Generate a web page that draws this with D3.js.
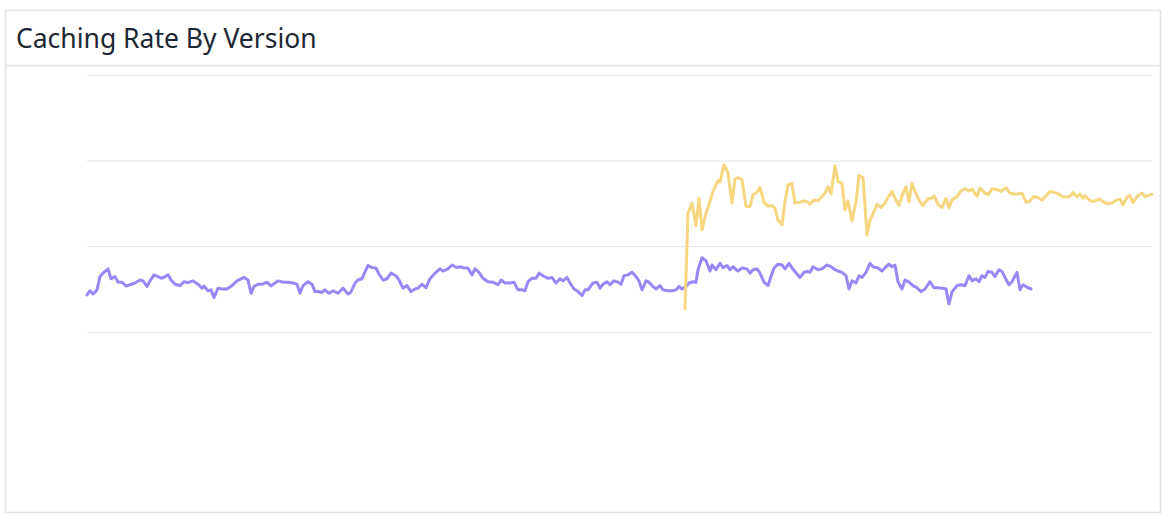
<!DOCTYPE html>
<html>
<head>
<meta charset="utf-8">
<script src="https://cdn.jsdelivr.net/npm/d3@7"></script>
<style>
  html, body { margin: 0; padding: 0; background: #fff; }
  #chart { width: 1170px; height: 520px; }
</style>
</head>
<body>
<div id="chart"></div>
<script>
const title = "Caching Rate By Version";

// minutes since start of window, caching rate in %
const oldVersionMinutes = [
    0, 3, 6, 10, 13, 16, 21, 24, 28, 31, 35, 39, 43, 48, 53, 56, 60, 63, 67, 71,
    75, 81, 84, 88, 93, 97, 101, 106, 111, 115, 117, 121, 124, 127, 131, 135, 140, 145, 150, 155,
    157, 161, 164, 167, 171, 175, 180, 184, 188, 191, 196, 201, 206, 210, 213, 216, 221, 225, 228, 231,
    235, 238, 242, 246, 251, 256, 261, 264, 268, 271, 275, 281, 285, 289, 292, 296, 300, 304, 309, 312,
    316, 320, 324, 328, 331, 335, 339, 343, 348, 353, 356, 361, 365, 370, 373, 377, 381, 385, 388, 392,
    396, 401, 406, 411, 414, 418, 423, 427, 431, 435, 438, 441, 445, 449, 452, 456, 461, 465, 469, 473,
    476, 480, 483, 487, 491, 495, 498, 501, 506, 510, 513, 516, 520, 523, 527, 531, 534, 537, 541, 545,
    549, 552, 555, 559, 562, 565, 569, 573, 576, 581, 585, 589, 592, 595, 599, 602, 606, 609, 611, 615,
    619, 623, 625, 629, 633, 636, 640, 643, 646, 651, 655, 660, 663, 666, 670, 673, 677, 681, 684, 687,
    691, 695, 698, 702, 705, 710, 713, 717, 720, 723, 726, 731, 735, 740, 744, 748, 751, 755, 759, 762,
    765, 769, 772, 775, 779, 783, 786, 791, 795, 799, 802, 805, 808, 811, 815, 818, 822, 826, 830, 834,
    838, 843, 847, 851, 855, 859, 862, 865, 870, 874, 878, 882, 885, 889, 892, 895, 898, 901, 905, 908,
    912, 915, 918, 922, 925, 930, 933, 936, 941, 944
];
const oldVersionRates = [
    48.6, 49.6, 48.8, 49.8, 52.9, 53.7, 54.7, 52.4, 52.9, 51.6, 51.6, 50.7, 51.0, 51.4, 52.1, 51.9, 50.6, 51.9, 53.3, 52.9,
    52.5, 53.3, 52.1, 51.1, 50.8, 51.7, 51.5, 51.9, 51.1, 50.2, 50.7, 49.6, 49.8, 48.0, 50.2, 50.0, 50.0, 50.8, 51.9, 52.5,
    52.7, 52.1, 49.0, 50.6, 51.1, 51.1, 51.6, 50.7, 51.4, 51.9, 51.6, 51.6, 51.4, 51.1, 49.0, 50.8, 51.7, 51.1, 49.4, 49.4,
    49.2, 49.8, 49.0, 49.6, 49.0, 50.2, 48.8, 49.3, 51.4, 52.1, 52.4, 55.5, 55.0, 54.9, 53.5, 52.1, 52.4, 53.7, 53.1, 52.1,
    50.2, 50.8, 49.4, 50.0, 50.2, 51.1, 50.3, 52.4, 53.7, 54.7, 54.2, 54.7, 55.6, 55.0, 55.2, 54.9, 54.9, 53.3, 54.7, 53.9,
    52.5, 51.7, 51.6, 51.0, 52.1, 51.4, 51.4, 51.6, 49.8, 49.8, 49.6, 51.7, 52.5, 52.5, 53.7, 53.1, 52.5, 52.7, 51.4, 52.4,
    51.9, 52.7, 51.4, 50.0, 49.4, 48.5, 49.8, 49.8, 51.4, 51.6, 50.2, 51.1, 51.7, 51.0, 51.9, 51.6, 51.1, 53.1, 53.3, 53.9,
    52.9, 51.9, 49.8, 51.9, 51.6, 50.8, 50.0, 50.8, 49.8, 49.6, 49.6, 49.8, 50.6, 50.0, 50.6, 51.4, 51.7, 51.6, 54.5, 57.3,
    56.6, 54.2, 55.6, 54.5, 56.0, 55.0, 55.5, 54.5, 55.2, 54.2, 54.9, 54.7, 53.7, 54.5, 54.7, 53.7, 51.6, 50.8, 52.9, 54.9,
    55.8, 55.6, 54.7, 56.0, 54.9, 53.5, 52.7, 53.9, 54.1, 53.9, 55.2, 54.5, 54.7, 55.6, 55.2, 54.5, 54.2, 53.9, 53.1, 50.0,
    51.9, 51.4, 53.1, 52.7, 53.9, 56.0, 55.2, 54.9, 54.2, 55.2, 55.8, 55.2, 55.6, 51.7, 50.0, 52.1, 51.6, 50.8, 50.3, 49.4,
    50.0, 51.7, 50.3, 50.3, 50.2, 50.0, 46.5, 49.3, 50.8, 51.0, 50.8, 53.1, 51.9, 52.4, 51.7, 53.1, 52.7, 54.1, 53.9, 52.9,
    54.5, 54.1, 52.7, 51.0, 51.7, 53.9, 49.8, 51.0, 50.3, 50.0
];

const newVersionMinutes = [
    598, 601, 605, 609, 612, 615, 619, 622, 626, 631, 633, 637, 641, 645, 648, 651, 655, 659, 663, 666,
    670, 673, 677, 681, 685, 688, 691, 695, 698, 701, 705, 708, 713, 717, 721, 723, 727, 731, 735, 738,
    741, 744, 748, 751, 755, 758, 761, 765, 769, 772, 776, 780, 783, 786, 790, 794, 798, 801, 805, 808,
    812, 815, 819, 822, 825, 829, 833, 836, 841, 844, 847, 851, 855, 859, 862, 865, 870, 874, 878, 882,
    885, 890, 893, 897, 901, 905, 910, 914, 919, 923, 927, 931, 935, 939, 942, 947, 951, 955, 960, 963,
    970, 976, 980, 984, 986, 990, 993, 996, 998, 1002, 1006, 1010, 1013, 1016, 1020, 1025, 1029, 1033, 1036, 1040,
    1043, 1046, 1050, 1055, 1058, 1063, 1065
];
const newVersionRates = [
    45.4, 67.7, 70.1, 64.8, 71.2, 63.8, 67.7, 69.7, 72.8, 75.3, 75.0, 79.0, 77.1, 70.1, 75.7, 76.0, 75.5, 69.3, 69.3, 72.0,
    72.6, 73.7, 70.3, 69.3, 69.5, 68.9, 66.1, 65.0, 70.4, 74.3, 74.7, 70.1, 70.3, 70.6, 70.3, 69.8, 70.8, 70.6, 71.6, 72.4,
    73.9, 72.2, 78.8, 75.1, 74.7, 68.5, 70.6, 65.9, 70.4, 76.5, 76.0, 62.6, 66.1, 67.5, 69.8, 69.0, 70.1, 71.4, 72.8, 71.2,
    69.5, 71.8, 73.9, 70.4, 74.7, 72.2, 70.4, 69.5, 71.1, 71.1, 71.8, 69.8, 69.0, 71.2, 69.0, 70.8, 71.6, 72.9, 73.4, 72.9,
    73.4, 71.6, 73.6, 72.6, 72.0, 73.4, 73.2, 72.8, 73.7, 72.4, 72.2, 72.2, 72.4, 70.3, 70.4, 71.6, 71.4, 70.8, 72.0, 72.8,
    72.4, 71.5, 71.5, 71.8, 72.5, 71.5, 72.2, 71.2, 71.8, 70.8, 70.4, 70.8, 71.0, 70.4, 69.9, 70.1, 70.7, 71.0, 69.7, 71.5,
    71.8, 70.2, 71.6, 72.4, 71.6, 72.0, 72.1
];

const gridRates = [40, 60, 80, 100];

const COLORS = {
    oldVersion: "#9a87f6",
    newVersion: "#f6d67f",
    grid: "#e9e9ec",
    border: "#e2e2ec",
    title: "#1d2733"
};

const width = 1170, height = 520;
const frame = { left: 5.5, top: 10.5, right: 1160.5, bottom: 512.5, header: 65.5 };
const plot = { left: 87, right: 1152, top: 75, bottom: 503 };

const svg = d3.select("#chart")
    .append("svg")
    .attr("width", width)
    .attr("height", height);

// widget frame + header rule
svg.append("rect")
    .attr("x", frame.left)
    .attr("y", frame.top)
    .attr("width", frame.right - frame.left)
    .attr("height", frame.bottom - frame.top)
    .attr("fill", "#fff")
    .attr("stroke", COLORS.border)
    .attr("stroke-width", 1.5);

svg.append("line")
    .attr("x1", frame.left).attr("x2", frame.right)
    .attr("y1", frame.header).attr("y2", frame.header)
    .attr("stroke", COLORS.border)
    .attr("stroke-width", 1.5);

svg.append("text")
    .attr("x", 16)
    .attr("y", 48)
    .attr("fill", COLORS.title)
    .style("font-family", "'Noto Sans', 'Open Sans', sans-serif")
    .style("font-size", "26.5px")
    .text(title);

const x = d3.scaleLinear()
    .domain([0, 1065])
    .range([plot.left, plot.right]);

const y = d3.scaleLinear()
    .domain([0, 100])
    .range([plot.bottom, plot.top]);

// gridlines, no labels
svg.append("g")
    .attr("class", "grid")
    .attr("transform", `translate(${plot.left},0)`)
    .call(d3.axisLeft(y).tickValues(gridRates).tickSize(-(plot.right - plot.left)).tickFormat(""))
    .call(g => g.select(".domain").remove())
    .call(g => g.selectAll(".tick line")
        .attr("stroke", COLORS.grid)
        .attr("stroke-width", 1.2));

const line = d3.line()
    .x(d => x(d[0]))
    .y(d => y(d[1]));

const series = [
    { name: "old", minutes: oldVersionMinutes, rates: oldVersionRates, color: COLORS.oldVersion },
    { name: "new", minutes: newVersionMinutes, rates: newVersionRates, color: COLORS.newVersion }
];

svg.selectAll("path.series")
    .data(series)
    .enter()
    .append("path")
    .attr("class", "series")
    .attr("d", s => line(d3.zip(s.minutes, s.rates)))
    .attr("fill", "none")
    .attr("stroke", s => s.color)
    .attr("stroke-width", 3)
    .attr("stroke-linejoin", "round")
    .attr("stroke-linecap", "round");
</script>
</body>
</html>
